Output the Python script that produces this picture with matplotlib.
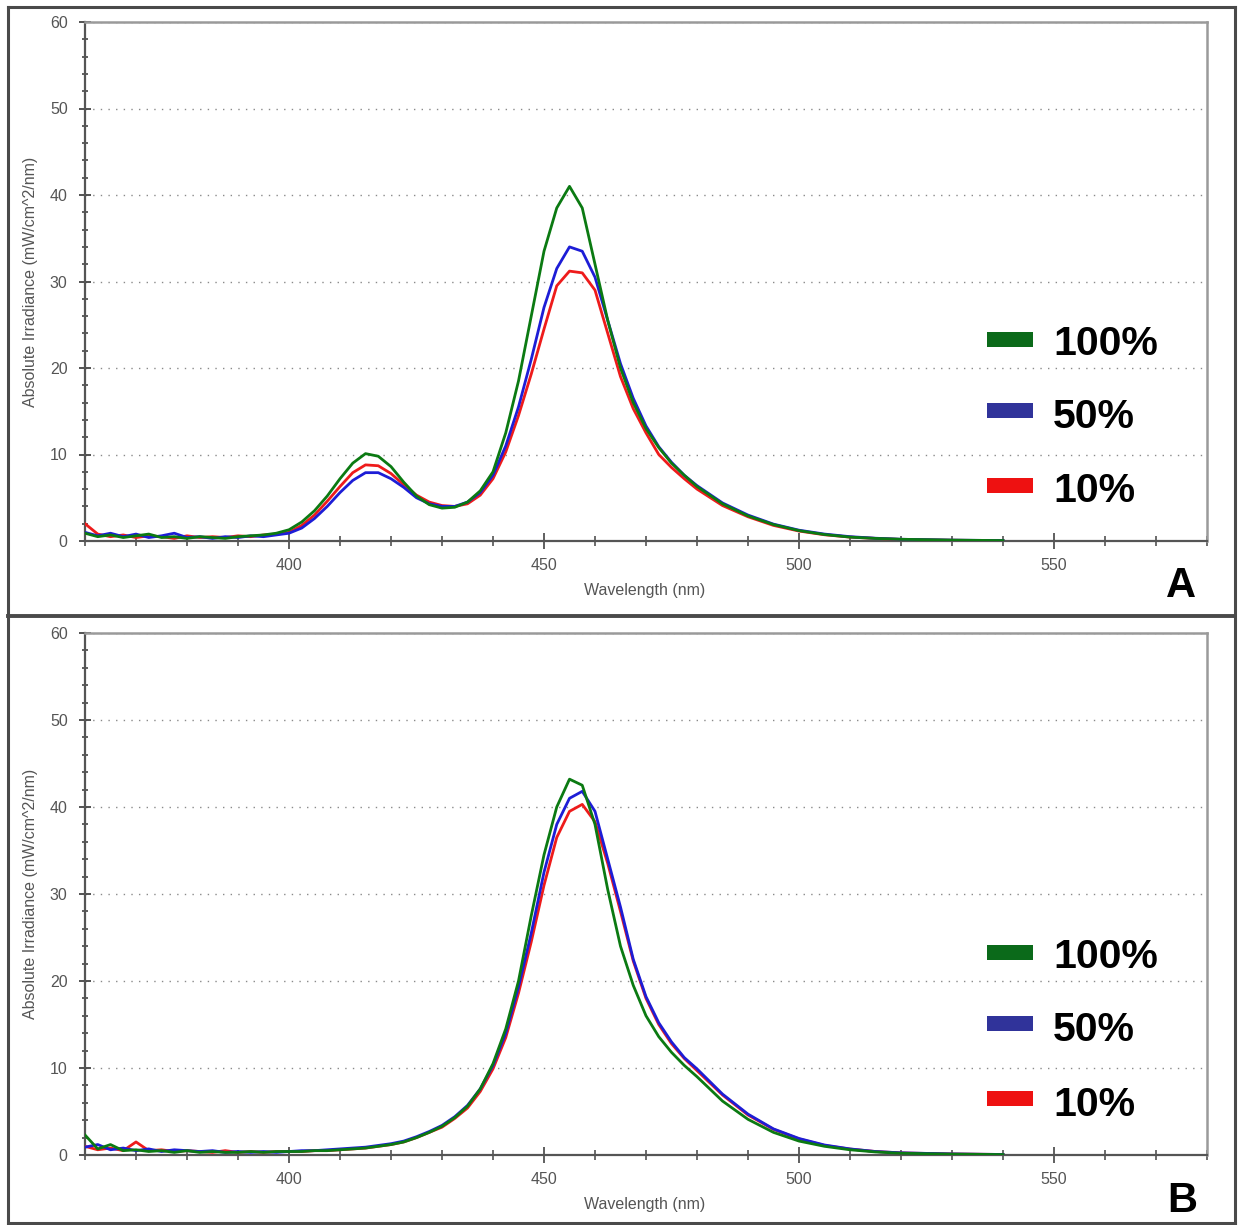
import matplotlib
matplotlib.use("Agg")
import matplotlib.pyplot as plt
from matplotlib.ticker import MultipleLocator
from matplotlib.patches import Rectangle
from matplotlib.lines import Line2D

plt.rcParams['font.family'] = ['Liberation Sans', 'DejaVu Sans']

# ---------------- data ----------------
wavelength = [360, 362.5, 365, 367.5, 370, 372.5, 375, 377.5, 380, 382.5, 385, 387.5,
              390, 392.5, 395, 397.5, 400, 402.5, 405, 407.5, 410, 412.5, 415, 417.5,
              420, 422.5, 425, 427.5, 430, 432.5, 435, 437.5, 440, 442.5, 445, 447.5,
              450, 452.5, 455, 457.5, 460, 462.5, 465, 467.5, 470, 472.5, 475, 477.5,
              480, 485, 490, 495, 500, 505, 510, 515, 520, 530, 540]

series_labels = ["100%", "50%", "10%"]

# Panel A
a_100 = [0.9, 0.5, 0.7, 0.4, 0.6, 0.8, 0.4, 0.5, 0.3, 0.5, 0.4, 0.3,
         0.5, 0.6, 0.7, 0.9, 1.3, 2.2, 3.5, 5.2, 7.2, 9.0, 10.1, 9.8,
         8.6, 6.8, 5.2, 4.2, 3.8, 3.9, 4.5, 5.8, 8.0, 12.5, 18.5, 26.0,
         33.5, 38.5, 41.0, 38.5, 32.0, 25.5, 20.0, 16.0, 13.0, 10.8, 9.0, 7.6,
         6.3, 4.3, 2.9, 1.9, 1.2, 0.75, 0.45, 0.3, 0.2, 0.1, 0.05]
a_50 = [1.0, 0.6, 0.9, 0.5, 0.8, 0.4, 0.6, 0.9, 0.4, 0.5, 0.3, 0.5,
        0.4, 0.6, 0.5, 0.7, 0.9, 1.5, 2.6, 4.0, 5.6, 7.0, 7.9, 7.9,
        7.2, 6.2, 5.0, 4.3, 4.0, 4.0, 4.5, 5.6, 7.6, 11.0, 15.5, 21.0,
        27.0, 31.5, 34.0, 33.5, 30.5, 25.5, 20.5, 16.5, 13.3, 10.9, 9.1, 7.6,
        6.4, 4.4, 3.0, 1.95, 1.25, 0.8, 0.5, 0.32, 0.2, 0.1, 0.05]
a_10 = [2.0, 0.8, 0.5, 0.7, 0.4, 0.6, 0.5, 0.3, 0.6, 0.4, 0.5, 0.4,
        0.6, 0.5, 0.7, 0.8, 1.0, 1.8, 3.0, 4.6, 6.3, 7.9, 8.8, 8.7,
        7.8, 6.5, 5.3, 4.5, 4.1, 4.0, 4.3, 5.3, 7.2, 10.3, 14.5, 19.3,
        24.5, 29.5, 31.2, 31.0, 29.0, 24.0, 19.0, 15.3, 12.5, 10.0, 8.5, 7.2,
        6.0, 4.1, 2.8, 1.8, 1.15, 0.72, 0.45, 0.3, 0.18, 0.09, 0.04]

# Panel B
b_100 = [2.3, 0.7, 1.2, 0.5, 0.6, 0.4, 0.5, 0.3, 0.5, 0.3, 0.4, 0.3,
         0.3, 0.4, 0.3, 0.4, 0.4, 0.4, 0.5, 0.5, 0.6, 0.7, 0.8, 1.0,
         1.2, 1.5, 2.0, 2.6, 3.3, 4.3, 5.6, 7.6, 10.5, 14.5, 20.0, 27.5,
         34.5, 40.0, 43.2, 42.5, 38.0, 30.5, 24.0, 19.5, 16.0, 13.6, 11.8, 10.3,
         9.0, 6.2, 4.1, 2.6, 1.6, 1.0, 0.6, 0.35, 0.2, 0.1, 0.05]
b_50 = [0.9, 1.2, 0.6, 0.8, 0.5, 0.7, 0.4, 0.6, 0.5, 0.4, 0.5, 0.3,
        0.4, 0.3, 0.4, 0.3, 0.4, 0.5, 0.5, 0.6, 0.7, 0.8, 0.9, 1.1,
        1.3, 1.6, 2.1, 2.7, 3.4, 4.4, 5.7, 7.6, 10.3, 14.0, 19.3, 25.5,
        32.5, 38.0, 41.0, 41.8, 39.5, 34.0, 28.5, 22.5, 18.2, 15.2, 13.0, 11.2,
        9.9, 7.0, 4.7, 3.0, 1.9, 1.15, 0.7, 0.4, 0.25, 0.12, 0.06]
b_10 = [1.0, 0.6, 0.8, 0.5, 1.5, 0.5, 0.6, 0.4, 0.5, 0.4, 0.3, 0.5,
        0.3, 0.4, 0.3, 0.4, 0.4, 0.4, 0.5, 0.5, 0.6, 0.7, 0.8, 1.0,
        1.2, 1.5, 2.0, 2.6, 3.2, 4.2, 5.4, 7.3, 9.9, 13.5, 18.6, 24.5,
        31.0, 36.5, 39.5, 40.3, 38.3, 33.5, 28.0, 22.3, 18.0, 15.0, 12.8, 11.1,
        9.7, 6.9, 4.6, 2.95, 1.85, 1.1, 0.68, 0.4, 0.24, 0.12, 0.06]

panels = [("A", [a_100, a_50, a_10]), ("B", [b_100, b_50, b_10])]

line_colors = ["#0b7a12", "#1d1dd6", "#ee1b1b"]
legend_colors = ["#0b6a1a", "#30339a", "#ee1111"]

# ---------------- figure ----------------
W, H = 1241, 1225
fig = plt.figure(figsize=(W / 100, H / 100), dpi=100)
fig.patch.set_facecolor("white")

axes_boxes = [(85, 22, 1207, 541), (85, 633, 1207, 1155)]  # px: left, top, right, bottom
letter_pos = [(1181, 597), (1182, 1212)]

for (letter, ys), (l, t, r, b), (lx, ly) in zip(panels, axes_boxes, letter_pos):
    ax = fig.add_axes([l / W, 1 - b / H, (r - l) / W, (b - t) / H])
    # draw order: red, blue, green on top
    for idx in [2, 1, 0]:
        ax.plot(wavelength, ys[idx], color=line_colors[idx], lw=2.0, zorder=3 + (2 - idx),
                solid_joinstyle="round")
    ax.set_xlim(360, 580)
    ax.set_ylim(0, 60)
    ax.xaxis.set_major_locator(MultipleLocator(50))
    ax.xaxis.set_minor_locator(MultipleLocator(10))
    ax.yaxis.set_major_locator(MultipleLocator(10))
    ax.yaxis.set_minor_locator(MultipleLocator(2))
    ax.grid(axis="y", which="major", linestyle=(0, (1, 4.5)), color="#8a8a8a", lw=1.0, zorder=1)
    ax.tick_params(axis="y", which="major", direction="inout", length=9, width=1.3,
                   color="#444444", labelsize=11.5, labelcolor="#555555", pad=8)
    ax.tick_params(axis="y", which="minor", direction="inout", length=5, width=1.2, color="#444444")
    ax.tick_params(axis="x", which="major", direction="inout", length=11, width=1.2,
                   color="#444444", labelsize=11.5, labelcolor="#555555", pad=7)
    ax.tick_params(axis="x", which="minor", direction="inout", length=7, width=1.1, color="#444444")
    for side in ["left", "bottom"]:
        ax.spines[side].set_color("#555555")
        ax.spines[side].set_linewidth(1.6)
    for side in ["top", "right"]:
        ax.spines[side].set_color("#9a9a9a")
        ax.spines[side].set_linewidth(1.8)
    ax.set_ylabel("Absolute Irradiance (mW/cm^2/nm)", fontsize=11.5, color="#555555")
    ax.yaxis.set_label_coords(-0.042, 0.5)
    ax.set_xlabel("Wavelength (nm)", fontsize=11.5, color="#555555")
    ax.xaxis.set_label_coords(0.499, -0.08)

    # legend (colored bars + big labels)
    patch_bottoms = [0.374, 0.237, 0.093]
    text_baselines = [0.358, 0.218, 0.075]
    for i, lab in enumerate(series_labels):
        ax.add_patch(Rectangle((0.804, patch_bottoms[i]), 0.041, 0.029,
                               transform=ax.transAxes, facecolor=legend_colors[i],
                               edgecolor="none", zorder=6))
        ax.text(0.863, text_baselines[i], lab, transform=ax.transAxes, fontsize=29.5,
                fontweight="bold", color="black", ha="left", va="baseline", zorder=6)

    fig.text(lx / W, 1 - ly / H, letter, fontsize=30, fontweight="bold",
             ha="center", va="baseline", color="black")

# outer frame and divider
frame_color = "#4a4a4a"
def fl(x0, y0, x1, y1, lw=2.2):
    fig.add_artist(Line2D([x0 / W, x1 / W], [1 - y0 / H, 1 - y1 / H], color=frame_color,
                          lw=lw, transform=fig.transFigure))
fl(8, 7, 1235, 7)
fl(8, 7, 8, 1223)
fl(1235, 7, 1235, 1223)
fl(8, 616, 1235, 616, lw=2.8)
fl(8, 1223, 1235, 1223)

fig.savefig("out.png", dpi=100, facecolor="white")
